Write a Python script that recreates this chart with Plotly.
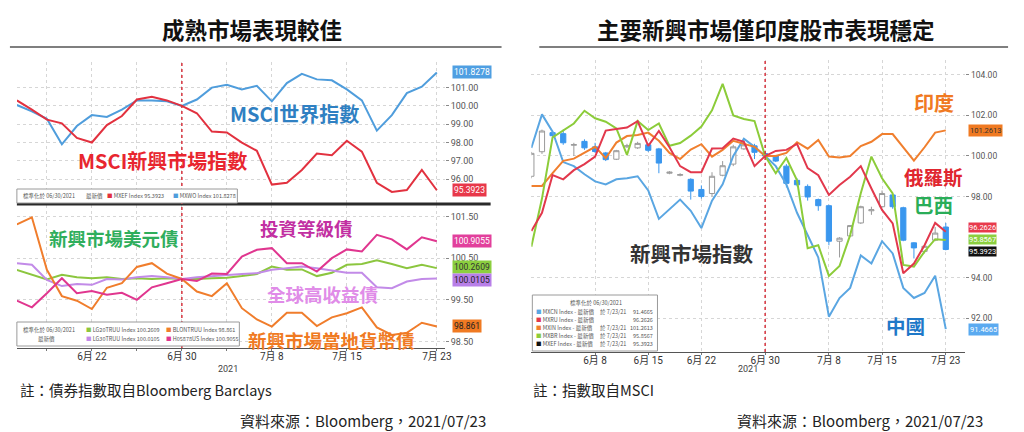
import plotly.graph_objects as go

W, H = 1024, 432
def px(x): return x / W
def py(y): return 1 - y / H

FONT = "Roboto, 'Noto Sans CJK TC', sans-serif"
CJK = "'Noto Sans CJK TC', sans-serif"

# ---------------- data: left chart ----------------
dates_l = ['2021-06-15', '2021-06-16', '2021-06-17', '2021-06-18', '2021-06-21', '2021-06-22',
           '2021-06-23', '2021-06-24', '2021-06-25', '2021-06-28', '2021-06-29', '2021-06-30',
           '2021-07-01', '2021-07-02', '2021-07-05', '2021-07-06', '2021-07-07', '2021-07-08',
           '2021-07-09', '2021-07-12', '2021-07-13', '2021-07-14', '2021-07-15', '2021-07-16',
           '2021-07-19', '2021-07-20', '2021-07-21', '2021-07-22', '2021-07-23']
mxwo = [100.05, 99.7, 99.3, 97.9, 98.9, 99.5, 99.4, 99.8, 100.3, 100.3, 100.25, 100.0, 100.35, 101.0,
        101.15, 100.9, 101.1, 100.25, 101.25, 101.75, 101.45, 101.4, 100.9, 100.3, 98.65, 99.5, 100.7,
        101.05, 101.8278]
mxef = [100.3, 99.8, 99.25, 99.05, 98.25, 98.0, 98.95, 99.45, 100.35, 100.5, 100.3, 100.0, 99.6, 98.6,
        98.55, 98.0, 97.55, 95.7, 95.8, 96.5, 97.4, 97.3, 98.1, 97.5, 95.8, 95.3, 95.4, 96.5, 95.3923]
lg20 = [100.22, 100.11, 99.99, 100.1, 100.04, 100.02, 100.04, 100.0, 100.02, 100.0, 100.02, 100.0, 100.0,
        100.02, 100.03, 100.07, 100.12, 100.3, 100.22, 100.23, 100.07, 100.15, 100.34, 100.36, 100.45,
        100.36, 100.26, 100.34, 100.2609]
lg30 = [100.38, 100.34, 99.98, 99.83, 99.88, 99.86, 100.0, 99.99, 100.04, 100.07, 100.04, 100.0, 100.04,
        100.07, 100.1, 100.12, 100.14, 100.22, 100.26, 100.3, 100.26, 100.2, 100.15, 100.15, 99.8, 99.78,
        99.94, 100.0, 100.0105]
h0587 = [99.48, 99.32, 99.66, 100.02, 99.66, 99.71, 99.62, 99.67, 99.5, 99.8, 99.9, 100.0, 99.95, 100.13,
         100.12, 100.54, 100.7, 100.74, 100.38, 100.38, 100.18, 100.5, 100.71, 100.66, 101.06, 100.95,
         100.71, 101.0, 100.9055]
blon = [101.31, 101.48, 100.22, 99.59, 99.48, 99.28, 99.79, 99.9, 100.29, 100.38, 100.13, 100.0, 99.7,
        99.59, 99.9, 99.3, 99.03, 98.86, 99.19, 99.19, 98.87, 99.08, 99.18, 99.32, 98.84, 98.66, 98.71,
        98.95, 98.861]
left_tick_dates = ['2021-06-17', '2021-06-22', '2021-06-25', '2021-06-30', '2021-07-05', '2021-07-08',
                   '2021-07-15', '2021-07-23']
left_tick_text = ['', '6月 22', '', '6月 30', '', '7月 8', '7月 15', '7月 23']

# ---------------- data: right chart ----------------
dates_r = ['2021-05-31', '2021-06-01', '2021-06-02', '2021-06-03', '2021-06-04', '2021-06-07',
           '2021-06-08', '2021-06-09', '2021-06-10', '2021-06-11', '2021-06-14', '2021-06-15',
           '2021-06-16', '2021-06-17', '2021-06-18', '2021-06-21', '2021-06-22', '2021-06-23',
           '2021-06-24', '2021-06-25', '2021-06-28', '2021-06-29', '2021-06-30', '2021-07-01',
           '2021-07-02', '2021-07-05', '2021-07-06', '2021-07-07', '2021-07-08', '2021-07-09',
           '2021-07-12', '2021-07-13', '2021-07-14', '2021-07-15', '2021-07-16', '2021-07-19',
           '2021-07-20', '2021-07-21', '2021-07-22', '2021-07-23']
mxcn = [100.4, 102.05, 101.2, 99.7, 99.5, 99.1, 98.75, 98.6, 98.85, 98.9, 99.0, 98.3, 96.9, 97.4, 97.85,
        97.3, 96.45, 97.8, 98.6, 100.0, 100.85, 100.45, 100.0, 99.5, 98.6, 97.2, 96.1, 95.0, 92.08, 93.0,
        93.5, 95.1, 94.7, 95.8, 95.2, 93.5, 93.0, 93.25, 94.1, 91.4665]
mxru = [96.3, 97.2, 99.06, 98.85, 99.3, 99.6, 99.97, 101.25, 101.33, 101.4, 101.72, 100.5, 101.23, 100.43,
        99.5, 99.2, 99.2, 100.37, 100.38, 100.86, 100.7, 99.5, 100.0, 100.25, 100.3, 100.6, 99.4, 99.05,
        98.08, 98.57, 98.98, 99.5, 98.4, 97.34, 96.68, 94.22, 94.7, 95.6, 96.7, 96.2626]
mxin = [98.52, 98.52, 99.15, 99.76, 99.87, 100.18, 100.45, 99.89, 100.66, 100.98, 101.03, 101.15, 100.75,
        100.15, 99.85, 100.32, 100.58, 99.97, 100.3, 100.75, 100.6, 100.45, 100.0, 100.0, 100.15, 100.68,
        100.36, 100.79, 99.97, 99.93, 100.0, 100.49, 100.7, 101.08, 101.08, 100.43, 99.77, 100.43, 101.15,
        101.2613]
mxbr = [95.53, 97.9, 100.92, 101.28, 101.6, 102.23, 101.86, 101.69, 101.36, 100.05, 101.72, 101.28, 101.6,
        100.5, 100.64, 101.0, 101.45, 102.25, 103.55, 102.0, 101.82, 101.72, 100.0, 99.15, 99.9, 98.8,
        95.45, 95.6, 94.09, 94.58, 96.1, 98.16, 99.97, 98.9, 98.16, 94.63, 94.55, 95.29, 95.9, 95.8567]
ef_open = [99.0, 100.21, 101.15, 101.1, 100.53, 100.72, 100.45, 100.15, 99.84, 100.45, 100.4, 100.55,
           100.35, 99.15, 99.05, 98.85, 98.35, 98.15, 99.05, 99.6, 100.35, 100.5, 100.12, 100.0, 99.5,
           98.8, 98.5, 97.85, 97.55, 95.8, 96.06, 96.7, 97.3, 97.5, 98.08, 97.45, 95.72, 95.3, 95.85, 96.5]
ef_high = [100.2, 101.3, 101.25, 101.3, 100.65, 100.82, 100.65, 100.2, 100.3, 100.6, 100.7, 100.62, 100.4,
           99.25, 99.15, 98.9, 98.55, 99.2, 99.75, 100.55, 100.8, 100.6, 100.2, 100.05, 99.6, 98.9, 98.6,
           97.9, 97.6, 96.0, 96.6, 97.55, 97.5, 98.3, 98.1, 97.5, 95.75, 95.6, 96.5, 96.7]
ef_low = [98.9, 100.1, 100.95, 100.55, 100.0, 100.3, 100.15, 99.75, 99.8, 100.4, 100.35, 100.2, 99.15,
          99.1, 99.0, 97.85, 97.9, 98.0, 99.0, 99.5, 100.3, 99.85, 99.9, 99.7, 98.45, 98.5, 97.8, 97.3,
          95.6, 95.0, 96.0, 96.65, 97.1, 97.45, 97.4, 95.8, 94.95, 95.2, 95.8, 95.35]
ef_close = [100.13, 101.23, 101.0, 100.65, 100.56, 100.4, 100.22, 99.82, 100.26, 100.5, 100.62, 100.28,
            99.65, 99.2, 99.08, 98.27, 98.0, 99.0, 99.52, 100.45, 100.55, 100.18, 100.0, 99.75, 98.65,
            98.58, 97.98, 97.55, 95.8, 95.95, 96.57, 97.5, 97.35, 98.15, 97.5, 95.85, 95.47, 95.55, 96.2,
            95.3923]
right_tick_dates = ['2021-06-08', '2021-06-15', '2021-06-22', '2021-06-30', '2021-07-08', '2021-07-15',
                    '2021-07-23']
right_tick_text = ['6月 8', '6月 15', '6月 22', '6月 30', '7月 8', '7月 15', '7月 23']

# ---------------- colours ----------------
C_WO, C_EF = '#4f9ddc', '#e2313f'
C_20, C_30, C_IG, C_LC = '#8cc63f', '#c28be8', '#e0368f', '#f07d2c'
C_CN, C_RU, C_IN, C_BR = '#5aa6e2', '#e2384c', '#f07f2e', '#8ccc3a'
C_CANDLE = '#3a97ee'

fig = go.Figure()

def line(x, y, color, xa, ya, w=2):
    fig.add_trace(go.Scatter(x=x, y=y, mode='lines', line=dict(color=color, width=w),
                             xaxis=xa, yaxis=ya, showlegend=False, hoverinfo='skip'))

line(dates_l, mxwo, C_WO, 'x', 'y')
line(dates_l, mxef, C_EF, 'x', 'y')
line(dates_l, lg20, C_20, 'x2', 'y2')
line(dates_l, lg30, C_30, 'x2', 'y2')
line(dates_l, blon, C_LC, 'x2', 'y2')
line(dates_l, h0587, C_IG, 'x2', 'y2')

line(dates_r, mxcn, C_CN, 'x3', 'y3')
line(dates_r, mxin, C_IN, 'x3', 'y3')
line(dates_r, mxbr, C_BR, 'x3', 'y3')
line(dates_r, mxru, C_RU, 'x3', 'y3')
fig.add_trace(go.Candlestick(x=dates_r, open=ef_open, high=ef_high, low=ef_low, close=ef_close,
                             xaxis='x3', yaxis='y3', showlegend=False, whiskerwidth=0,
                             increasing=dict(line=dict(color='#9a9a9a', width=1), fillcolor='white'),
                             decreasing=dict(line=dict(color=C_CANDLE, width=1), fillcolor=C_CANDLE)))

GRID = dict(showgrid=True, gridcolor='#d6d6d6', griddash='dot', gridwidth=1, zeroline=False)
TICKF = dict(family=FONT, size=9, color='#555')
XTF = dict(family=FONT, size=10, color='#333')

fig.update_layout(
    width=W, height=H, margin=dict(l=0, r=0, t=0, b=0),
    paper_bgcolor='white', plot_bgcolor='white', showlegend=False,
    xaxis=dict(domain=[px(17), px(448)], anchor='y', type='category', range=[0, 28.54],
               tickvals=left_tick_dates, ticktext=['']*len(left_tick_dates), ticks='',
               showticklabels=False, **GRID),
    yaxis=dict(domain=[py(204), py(62)], anchor='x', side='right', range=[94.64, 102.40],
               tickvals=[96, 97, 98, 99, 100, 101], tickformat='.2f', ticks='outside',
               ticklen=3, tickcolor='#888', tickfont=TICKF, **GRID),
    xaxis2=dict(domain=[px(17), px(448)], anchor='y2', type='category', range=[0, 28.54],
                tickvals=left_tick_dates, ticktext=left_tick_text, ticks='outside', ticklen=2,
                ticklabelstandoff=-3,
                tickcolor='#777', showline=True, linecolor='#555', linewidth=1, tickfont=XTF, **GRID),
    yaxis2=dict(domain=[py(348), py(205)], anchor='x2', side='right', range=[98.345, 101.775],
                tickvals=[98.5, 99.5, 100.5, 101.5], tickformat='.2f',
                ticks='outside', ticklen=3, tickcolor='#888', tickfont=TICKF, **GRID),
    xaxis3=dict(domain=[px(535), px(972)], anchor='y3', type='category', range=[0, 40.84],
                tickvals=right_tick_dates, ticktext=right_tick_text, ticks='outside', ticklen=2,
                ticklabelstandoff=-3,
                tickcolor='#777', showline=True, linecolor='#555', linewidth=1,
                rangeslider=dict(visible=False), tickfont=XTF, **GRID),
    yaxis3=dict(domain=[py(352), py(60)], anchor='x3', side='right', range=[90.34, 104.73],
                tickvals=[92, 94, 98, 100, 102, 104], tickformat='.2f', ticks='outside',
                ticklen=3, tickcolor='#888', tickfont=dict(family=FONT, size=8.5, color='#555'), **GRID),
)

shapes = []
# title underlines
shapes.append(dict(type='line', xref='paper', yref='paper', x0=px(10), x1=px(505), y0=py(47), y1=py(47),
                   line=dict(color='#555', width=1.5)))
shapes.append(dict(type='line', xref='paper', yref='paper', x0=px(543), x1=px(1015), y0=py(47), y1=py(47),
                   line=dict(color='#555', width=1.5)))
# separator between the two left panels
shapes.append(dict(type='line', xref='paper', yref='paper', x0=px(17), x1=px(494), y0=py(204), y1=py(204),
                   line=dict(color='#2a2a2a', width=3)))
# 6/30 dashed reference lines
shapes.append(dict(type='line', xref='x2', yref='paper', x0=dates_l.index('2021-06-30'),
                   x1=dates_l.index('2021-06-30'), y0=py(348), y1=py(62),
                   line=dict(color='#d6343f', width=1.5, dash='3px,3px')))
shapes.append(dict(type='line', xref='x3', yref='paper', x0=dates_r.index('2021-06-30'),
                   x1=dates_r.index('2021-06-30'), y0=py(352), y1=py(60),
                   line=dict(color='#d6343f', width=1.5, dash='3px,3px')))
# legend boxes
for (x0, y0, x1, y1) in [(17, 189, 239, 203), (17, 322, 241, 346), (536, 295, 662, 351)]:
    shapes.append(dict(type='rect', xref='paper', yref='paper', x0=px(x0), x1=px(x1), y0=py(y1), y1=py(y0),
                       fillcolor='white', line=dict(color='#9a9a9a', width=1), layer='above'))
fig.update_layout(shapes=shapes)

ann = []
def text(x, y, s, size, color, anchor='center', family=CJK, weight='normal'):
    ann.append(dict(x=px(x), y=py(y), xref='paper', yref='paper', text=s, showarrow=False,
                    xanchor=anchor, yanchor='middle',
                    font=dict(family=family, size=size, color=color, weight=weight)))

# titles
text(254, 29, '成熟市場表現較佳', 22.5, '#111', weight='bold')
text(771, 29, '主要新興市場僅印度股市表現穩定', 22.5, '#111', weight='bold')
# notes
text(18, 389, '註：債券指數取自Bloomberg Barclays', 14.5, '#222', 'left')
text(240, 420, '資料來源：Bloomberg，2021/07/23', 15, '#222', 'left')
text(535, 389, '註：指數取自MSCI', 14.5, '#222', 'left')
text(740, 420, '資料來源：Bloomberg，2021/07/23', 15, '#222', 'left')
# year labels
text(230, 369, '2021', 9, '#444', family=FONT)
text(753, 369, '2021', 9, '#444', family=FONT)

# in-chart labels
text(297, 113, 'MSCI世界指數', 20, '#2f80c2', weight='bold')
text(164, 160, 'MSCI新興市場指數', 20, '#e8262f', weight='bold')
text(115, 238, '新興市場美元債', 18.5, '#2fae5c', weight='bold')
text(309, 228, '投資等級債', 18.5, '#c22fa2', weight='bold')
text(325, 294, '全球高收益債', 18.5, '#e08ce8', weight='bold')
text(334, 340, '新興市場當地貨幣債', 18.5, '#f07a22', weight='bold')
text(940, 102, '印度', 20, '#f07a22', weight='bold')
text(940, 176, '俄羅斯', 19.5, '#e0262f', weight='bold')
text(940, 204, '巴西', 19.5, '#2aad58', weight='bold')
text(697, 253, '新興市場指數', 20.5, '#333', weight='bold')
text(912, 325, '中國', 19.5, '#1e78c8', weight='bold')

# legend contents (tiny Bloomberg legends)
LG = '#555'
def sq(c):
    return f"<span style='color:{c}'>■</span>"
text(21, 196, '標準化於 06/30/2021', 5.5, LG, 'left')
text(85, 196, '最新價', 5.5, LG, 'left')
text(106, 196, sq(C_EF) + ' MXEF Index 95.3923', 5.5, LG, 'left')
text(172, 196, sq(C_WO) + ' MXWO Index 101.8278', 5.5, LG, 'left')

text(21, 330, '標準化於 06/30/2021', 5.5, LG, 'left')
text(36, 339, '最新價', 5.5, LG, 'left')
text(85, 330, sq(C_20) + ' LG20TRUU Index 100.2609', 5.5, LG, 'left')
text(85, 339, sq(C_30) + ' LG30TRUU Index 100.0105', 5.5, LG, 'left')
text(165, 330, sq(C_LC) + ' BLONTRUU Index 98.861', 5.5, LG, 'left')
text(165, 339, sq(C_IG) + ' H05878US Index 100.9055', 5.5, LG, 'left')

text(600, 303, '標準化於 06/30/2021', 5.5, LG)
rows = [(C_CN, 'MXCN', '於 7/23/21', '91.4665'), (C_RU, 'MXRU', '', '96.2626'),
        (C_IN, 'MXIN', '於 7/23/21', '101.2613'), (C_BR, 'MXBR', '於 7/23/21', '95.8567'),
        ('#111', 'MXEF', '於 7/23/21', '95.3923')]
for k, (c, nm, dt, v) in enumerate(rows):
    yy = 312 + k * 8
    text(538, yy, sq(c) + f' {nm} Index - 最新價', 5.5, LG, 'left')
    text(602, yy, dt, 5.5, LG, 'left')
    text(660, yy, v, 5.5, LG, 'right')

# value badges at the right axis
def badge(val, yref, x, bg, fc, ys=0, label=None, size=8.5, pad=1):
    ann.append(dict(x=px(x), xref='paper', y=val, yref=yref, yshift=ys,
                    text=label if label else f'{val}', showarrow=False, xanchor='left', yanchor='middle',
                    bgcolor=bg, borderpad=pad, font=dict(family=FONT, size=size, color=fc)))

badge(mxwo[-1], 'y', 455, '#4f9fe2', 'white')
badge(mxef[-1], 'y', 455, '#e8384a', 'white')
badge(h0587[-1], 'y2', 455, '#e2409c', 'white')
badge(lg20[-1], 'y2', 455, '#8ccf3f', '#333', ys=1)
badge(lg30[-1], 'y2', 455, '#b87fe8', '#222', ys=-1)
badge(blon[-1], 'y2', 455, '#f07a22', '#222')
badge(mxin[-1], 'y3', 975, '#f07a22', '#333', label='101.2613', size=7.5)
badge(mxru[-1], 'y3', 975, '#e83a4c', 'white', ys=4, size=7.5, pad=0)
badge(mxbr[-1], 'y3', 975, '#8ccf3f', 'white', ys=1, size=7.5, pad=0)
badge(ef_close[-1], 'y3', 975, '#111111', 'white', ys=-2, size=7.5, pad=0)
badge(mxcn[-1], 'y3', 975, '#5aaaf0', 'white', size=7.5)

fig.update_layout(annotations=ann)
fig.write_html('out.html', config={'displayModeBar': False},
               post_script="document.body.style.margin='0';")
